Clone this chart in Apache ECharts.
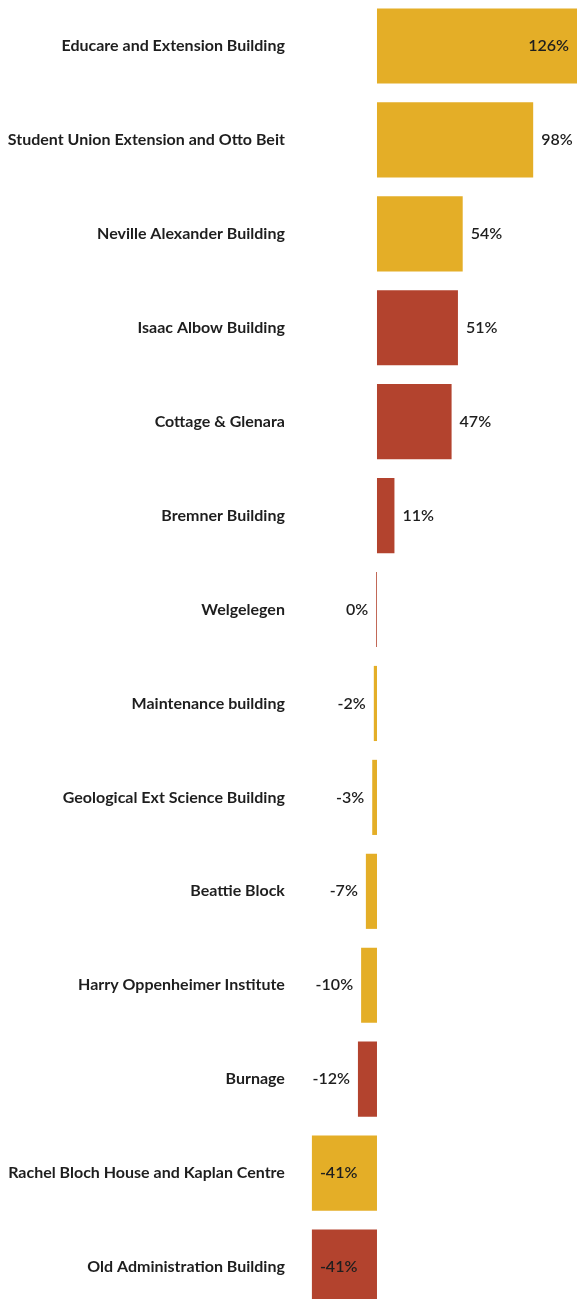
<!DOCTYPE html>
<html>
<head>
<meta charset="utf-8">
<script src="https://cdn.jsdelivr.net/npm/echarts@6/dist/echarts.min.js"></script>
<style>
html,body{margin:0;padding:0;background:#fff;overflow:hidden;}
#chart{position:absolute;left:0;top:-1px;width:577px;height:1315px;}
</style>
</head>
<body>
<div id="chart"></div>
<script>
var categories = [
  "Educare and Extension Building",
  "Student Union Extension and Otto Beit",
  "Neville Alexander Building",
  "Isaac Albow Building",
  "Cottage & Glenara",
  "Bremner Building",
  "Welgelegen",
  "Maintenance building",
  "Geological Ext Science Building",
  "Beattie Block",
  "Harry Oppenheimer Institute",
  "Burnage",
  "Rachel Bloch House and Kaplan Centre",
  "Old Administration Building"
];
var values = [126, 98.4, 54, 51, 47, 11, -0.5, -2, -3, -7, -10, -12, -41, -41];
var groups = ["gold","gold","gold","red","red","red","red","gold","gold","gold","gold","red","gold","red"];
var labelPlacement = ["insideRight","right","right","right","right","right","left","left","left","left","left","left","insideLeft","insideLeft"];

var palette = { gold: "#E4AE27", red: "#B3432E" };

var data = values.map(function (v, i) {
  return {
    value: v,
    itemStyle: { color: palette[groups[i]] },
    label: { position: labelPlacement[i] }
  };
});

var chart = echarts.init(document.getElementById('chart'), null, { renderer: 'canvas' });
chart.setOption({
  animation: false,
  grid: { left: 311.9, right: 0, top: 0, bottom: 0, containLabel: false },
  xAxis: {
    type: 'value', min: -41, max: 126,
    show: false
  },
  yAxis: {
    type: 'category', inverse: true, data: categories,
    axisLine: { show: false, onZero: false },
    axisTick: { show: false },
    splitLine: { show: false },
    axisLabel: {
      margin: 27,
      fontFamily: 'Lato',
      fontWeight: 'bold',
      fontSize: 16,
      color: '#1e1e1e'
    }
  },
  series: [{
    type: 'bar',
    data: data,
    barCategoryGap: '20%',
    label: {
      show: true,
      distance: 8,
      fontFamily: 'Lato',
      fontWeight: 600,
      fontSize: 16,
      color: '#1e1e1e',
      formatter: function (p) { return Math.round(p.value) + '%'; }
    }
  }]
});
</script>
</body>
</html>
